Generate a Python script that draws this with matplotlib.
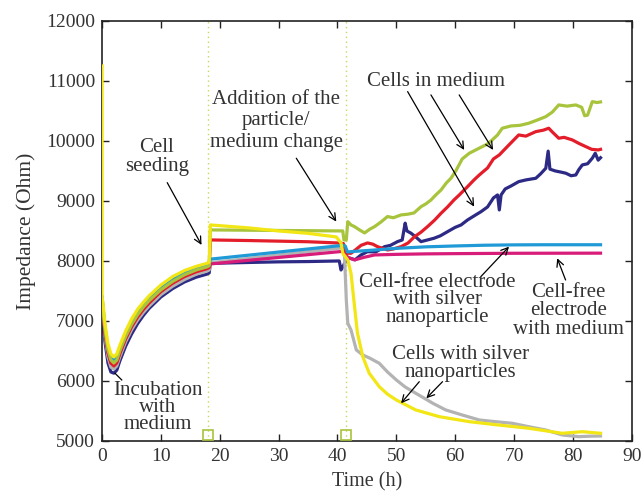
import matplotlib
matplotlib.use("Agg")
import matplotlib.pyplot as plt

plt.rcParams['font.family'] = ['Liberation Serif', 'DejaVu Serif']

TXT = '#333333'

# ---- data (time in h, impedance in Ohm) ----
blue_t = [0, 0.5, 1, 1.5, 2, 2.5, 3, 4, 5, 6, 7, 8, 10, 12, 14, 16, 17.8, 18.2, 18.4, 25, 30, 35, 40.3,
          40.6, 40.9, 41.3, 42, 43, 44, 45.1, 46.5, 48, 49, 50.2, 51, 51.5, 51.8, 52.5, 53.3, 54.2, 55.3,
          56.4, 57.5, 58.7, 60, 61, 62.1, 63.2, 64.4, 65.5, 66.5, 67.2, 67.5, 67.8, 68.5, 69.5, 70.8, 72,
          73.7, 74.5, 75.4, 75.8, 76.1, 77, 78, 78.8, 79.7, 80.5, 81, 81.6, 82.5, 83.3, 83.8, 84.3, 84.7]
blue_v = [7150, 6650, 6300, 6150, 6130, 6180, 6330, 6580, 6780, 6950, 7090, 7210, 7400, 7540, 7650, 7730, 7780, 7800, 7960, 7975, 7985, 7990, 8000,
          7850, 7900, 7980, 8050, 8020, 8100, 8155, 8150, 8238, 8260, 8322, 8350, 8630, 8500, 8462, 8400, 8322, 8350,
          8378, 8420, 8488, 8560, 8600, 8683, 8750, 8822, 8900, 9050, 9100, 8850, 9100, 9200, 9250, 9322, 9350,
          9378, 9450, 9545, 9830, 9530, 9500, 9480, 9462, 9420, 9433, 9520, 9600, 9620, 9712, 9795, 9680, 9720]

gray_t = [0, 0.5, 1, 1.5, 2, 2.5, 3, 4, 5, 6, 7, 8, 10, 12, 14, 16, 17.8, 18.2, 18.4, 40.9, 41.2, 41.5,
          41.75, 42.3, 43.2, 44.3, 45.5, 47.1, 48.5, 50, 51.5, 53.3, 54.8, 56.2, 58.4, 61.2, 64.1, 67, 69.7,
          72.5, 75.4, 78.2, 81, 83, 84.7]
gray_v = [7250, 6740, 6400, 6230, 6200, 6250, 6400, 6650, 6850, 7010, 7140, 7250, 7440, 7580, 7690, 7780, 7830, 7850, 7970, 8220, 8072, 7350,
          6962, 6850, 6517, 6433, 6380, 6295, 6150, 6017, 5900, 5795, 5710, 5628, 5517, 5433, 5350, 5320, 5295,
          5238, 5183, 5100, 5072, 5080, 5083]

mag_t = [0, 0.5, 1, 1.5, 2, 2.5, 3, 4, 5, 6, 7, 8, 10, 12, 14, 16, 17.8, 18.2, 18.4, 40.9, 41.3, 41.7,
         42.9, 44.5, 46.3, 50, 55, 60, 70, 84.7]
mag_v = [7300, 6800, 6470, 6300, 6280, 6330, 6480, 6720, 6920, 7080, 7210, 7320, 7500, 7640, 7750, 7830, 7880, 7900, 7950, 8160, 8150, 8060,
         8017, 8060, 8100, 8110, 8118, 8122, 8128, 8130]

red_t = [0, 0.5, 1, 1.5, 2, 2.5, 3, 4, 5, 6, 7, 8, 10, 12, 14, 16, 17.8, 18.2, 18.4, 25, 30, 35, 40, 41,
         41.5, 42.3, 43, 44, 45.1, 46, 46.8, 48.5, 49.5, 50.8, 52, 53.1, 54.2, 55.3, 56.5, 57.6, 58.7, 59.8,
         60.7, 62.1, 63.2, 64.1, 65.5, 66.5, 67.5, 69, 70.8, 72, 73.7, 75, 75.9, 76.5, 77.6, 78.5, 79.9, 81,
         82.2, 83.2, 84.3, 84.7]
red_v = [7300, 6800, 6480, 6300, 6250, 6300, 6450, 6700, 6900, 7060, 7190, 7300, 7490, 7630, 7740, 7820, 7870, 7890, 8350, 8340, 8330, 8320, 8300, 8290,
         8130, 8128, 8180, 8260, 8300, 8280, 8238, 8183, 8200, 8238, 8300, 8405, 8480, 8572, 8680, 8795, 8900, 9017,
         9100, 9238, 9350, 9433, 9550, 9700, 9767, 9920, 10100, 10080, 10155, 10180, 10212, 10150, 10045, 10060, 10017, 9960,
         9905, 9860, 9850, 9860]

lblue_t = [0, 0.5, 1, 1.5, 2, 2.5, 3, 4, 5, 6, 7, 8, 10, 12, 14, 16, 17.8, 18.2, 18.4, 40.9, 41.3, 41.7,
           43, 46, 50, 55, 60, 65, 70, 75, 80, 84.7]
lblue_v = [7400, 6880, 6550, 6380, 6350, 6400, 6540, 6780, 6980, 7140, 7270, 7380, 7560, 7700, 7800, 7880, 7930, 7950, 8030, 8260, 8250, 8150,
           8160, 8180, 8210, 8235, 8250, 8262, 8268, 8270, 8270, 8270]

green_t = [0, 0.5, 1, 1.5, 2, 2.5, 3, 4, 5, 6, 7, 8, 10, 12, 14, 16, 17.8, 18.2, 18.4, 40.9, 41.1, 41.5,
           41.75, 42.3, 42.9, 43.7, 44.6, 45.5, 46.3, 47.4, 48.5, 49.5, 50.8, 52, 53, 54.2, 55, 55.9, 56.7,
           57.6, 58.5, 59.3, 60.1, 61.2, 62.4, 63.5, 64.5, 65.5, 66.3, 67.2, 68, 69.5, 71, 72.5, 74, 75.4,
           76.5, 77.6, 79, 80.5, 81.5, 82, 82.5, 83.3, 84.1, 84.7]
green_v = [7350, 6850, 6520, 6350, 6300, 6350, 6500, 6740, 6940, 7100, 7230, 7340, 7520, 7660, 7770, 7850, 7900, 7920, 8517, 8500, 8350, 8350,
           8655, 8600, 8572, 8520, 8467, 8530, 8572, 8650, 8740, 8720, 8767, 8780, 8800, 8905, 8950, 9017, 9100,
           9183, 9300, 9380, 9500, 9700, 9795, 9850, 9900, 9950, 10017, 10100, 10212, 10250, 10260, 10295, 10350, 10405,
           10480, 10600, 10580, 10600, 10560, 10420, 10430, 10655, 10640, 10650]

yel_t = [0, 0, 0.15, 0.5, 1, 1.5, 2, 2.5, 3, 4, 5, 6, 7, 8, 10, 12, 14, 16, 17.8, 18.2, 18.4, 25, 30, 35,
         39.8, 40.6, 40.9, 41.75, 42.3, 42.9, 43.4, 44.3, 45.4, 47.1, 48.5, 50, 53.3, 57.3, 62.4, 67, 72.5,
         78.2, 81.6, 84.7]
yel_v = [11250, 7400, 7300, 6950, 6620, 6450, 6400, 6450, 6590, 6830, 7030, 7190, 7310, 7420, 7600, 7740, 7840, 7910, 7960, 7980, 8600, 8550, 8500, 8460,
         8400, 8300, 8128, 8017, 7795, 7240, 6795, 6405, 6128, 5905, 5780, 5683, 5517, 5405, 5322, 5270, 5212,
         5128, 5155, 5128]

event_t = [18.0, 41.4]

x_ticks = list(range(0, 100, 10))
y_ticks = list(range(5000, 13000, 1000))

# ---- figure ----
fig = plt.figure(figsize=(6.42, 4.98), dpi=100)
ax = fig.add_axes([0.159, 0.1145, 0.825, 0.8435])

for t in event_t:
    ax.axvline(t, color='#c8d85a', lw=1.0, ls=(0, (1, 2.5)), zorder=1)
ax.plot(event_t, [5100, 5100], ls='none', marker='s', ms=6.5, mfc='none', mec='#a8c43c', mew=1.2,
        zorder=6, clip_on=False)

lw = 2.3
ax.plot(blue_t, blue_v, color='#2c2a84', lw=lw, zorder=2)
ax.plot(gray_t, gray_v, color='#b3b3b3', lw=lw, zorder=2)
ax.plot(mag_t, mag_v, color='#d81c7a', lw=lw, zorder=3)
ax.plot(red_t, red_v, color='#e31e2a', lw=lw, zorder=3)
ax.plot(lblue_t, lblue_v, color='#1f9ad6', lw=lw, zorder=3)
ax.plot(green_t, green_v, color='#a8c43c', lw=lw, zorder=4)
ax.plot(yel_t, yel_v, color='#f2e614', lw=lw, zorder=5)

ax.set_xlim(0, 90)
ax.set_ylim(5000, 12000)
ax.set_xticks(x_ticks)
ax.set_yticks(y_ticks)
ax.tick_params(direction='in', top=True, right=True, length=5, width=1.0,
               labelsize=14, colors='#222222', labelcolor=TXT, pad=5)
for s in ax.spines.values():
    s.set_color('#222222')
    s.set_linewidth(1.2)
ax.set_xlabel('Time (h)', fontsize=14.5, color=TXT, labelpad=5)
ax.set_ylabel('Impedance (Ohm)', fontsize=15.5, color=TXT, labelpad=7)

fs = 15
kw = dict(ha='center', va='center', fontsize=fs, color=TXT, zorder=10)
ax.text(9.3, 9733, 'Cell\nseeding', linespacing=0.95, **kw)
ax.text(29.6, 10333, 'Addition of the\nparticle/\nmedium change', linespacing=1.15, **kw)
ax.text(56.7, 10988, 'Cells in medium', **kw)
ax.text(57.0, 7350, 'Cell-free electrode\nwith silver\nnanoparticle', linespacing=0.87, **kw)
ax.text(79.2, 7167, 'Cell-free\nelectrode\nwith medium', linespacing=0.95, **kw)
ax.text(60.85, 6295, 'Cells with silver\nnanoparticles', linespacing=0.95, **kw)
ax.text(9.5, 5558, 'Incubation\nwith\nmedium', linespacing=0.85, **kw)

ap = dict(arrowstyle='->,head_length=0.5,head_width=0.25', lw=0.9, color='black', shrinkA=0, shrinkB=0)
arrows = [((11.07, 9305), (16.9, 8267)),
          ((33.0, 9712), (39.8, 8655)),
          ((51.92, 10822), (63.22, 8905)),
          ((55.88, 10767), (61.53, 9850)),
          ((60.68, 10767), (66.44, 9850)),
          ((64.35, 7738), (69.15, 8238)),
          ((78.76, 7683), (77.34, 8045)),
          ((53.9, 5988), (50.8, 5628)),
          ((57.85, 5988), (55.1, 5712))]
for (s, e) in arrows:
    ax.annotate('', xy=e, xytext=s, arrowprops=ap, zorder=9)
ax.plot([2.2, 3.34], [6128, 6017], color='black', lw=0.9, zorder=9)

fig.savefig('out.png', dpi=100)
